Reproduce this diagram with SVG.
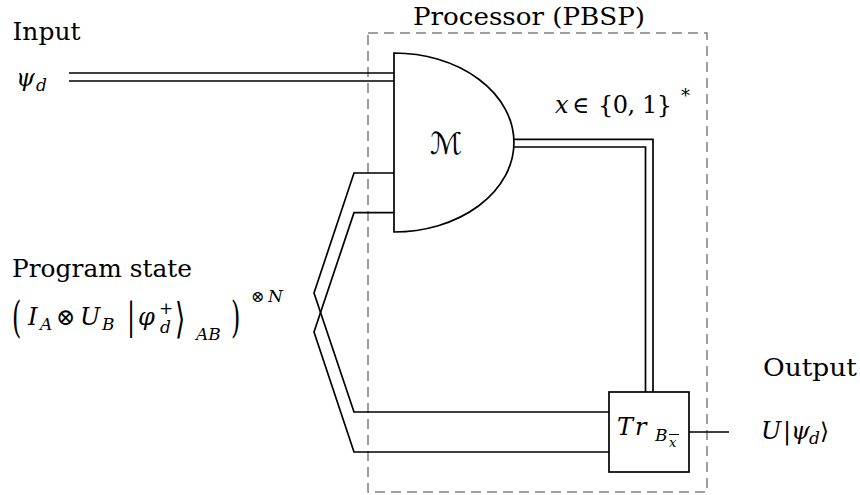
<svg xmlns="http://www.w3.org/2000/svg" width="860" height="495" viewBox="0 0 860 495">
<style>
text{font-family:'DejaVu Serif',serif;fill:#000}
.t{font-size:24px}
.i{font-style:italic;font-size:24px}
.s{font-style:italic;font-size:17px}
.ss{font-style:italic;font-size:13px}
.sym{font-size:23px}
.w{fill:none;stroke:#000;stroke-width:1.7}
.dash{fill:none;stroke:#808080;stroke-width:1.5;stroke-dasharray:10 6}
</style>
<rect width="860" height="495" fill="#fff"/>
<g id="processor">
<rect class="dash" x="368" y="33" width="339" height="459"/>
<text class="t" x="413" y="25" textLength="232" lengthAdjust="spacingAndGlyphs">Processor (PBSP)</text>
</g>
<g id="connectors">
<path class="w" d="M69,73 H394 M69,81 H394"/>
<path class="w" d="M513,139.3 H653 V392 M513.5,147 H645.5 V392"/>
<path class="w" d="M394,173 H354 L314,293 L354,412 H609"/>
<path class="w" d="M394,212.7 H354 L314,332 L354,452 H609"/>
<path class="w" d="M689,432 H729"/>
</g>
<g id="measurement">
<path class="w" d="M394,53 A120,89.5 0 0 1 394,232 Z" fill="#fff"/>
<text x="430" y="154" style="font-family:'DejaVu Sans',sans-serif;font-size:30px">ℳ</text>
</g>
<g id="trace">
<rect class="w" x="609" y="392" width="80" height="80" fill="#fff"/>
<text class="i" x="617" y="435">T</text>
<text class="i" x="635" y="435">r</text>
<text class="s" x="655" y="441">B</text>
<text class="ss" x="669" y="447">x</text>
<path d="M669,434.5 H679" stroke="#000" stroke-width="1"/>
</g>
<g id="input">
<text class="t" x="12.5" y="39.5" textLength="68" lengthAdjust="spacingAndGlyphs">Input</text>
<text class="i" x="16" y="86">ψ</text>
<text class="s" x="36" y="91">d</text>
</g>
<g id="x-label">
<text class="i" x="555" y="113">x</text>
<text class="sym" x="572" y="113">∈</text>
<text class="t" x="598" y="113" textLength="74" lengthAdjust="spacing">{0, 1}</text>
<text class="t" x="681" y="102" style="font-size:18px">*</text>
</g>
<g id="program">
<text class="t" x="12" y="277" textLength="180" lengthAdjust="spacingAndGlyphs">Program state</text>
<text class="t" transform="translate(12,332) scale(1,1.8)">(</text>
<text class="i" x="28" y="325">I</text>
<text class="s" x="40" y="330">A</text>
<text class="sym" x="56" y="325">⊗</text>
<text class="i" x="80" y="325">U</text>
<text class="s" x="102" y="330">B</text>
<text class="t" transform="translate(127,329) scale(1,1.58)">|</text>
<text class="i" x="138" y="325">φ</text>
<text class="s" x="159" y="314" style="font-style:normal">+</text>
<text class="s" x="160" y="333">d</text>
<text class="t" transform="translate(175,333) scale(1.1,1.75)">⟩</text>
<text class="s" x="196" y="340">AB</text>
<text class="t" transform="translate(231,332) scale(1,1.8)">)</text>
<text class="sym" x="251" y="302" style="font-size:16px">⊗</text>
<text class="s" x="268" y="302">N</text>
</g>
<g id="output">
<text class="t" x="763" y="376" textLength="94" lengthAdjust="spacingAndGlyphs">Output</text>
<text class="i" x="761" y="439">U</text>
<text class="t" x="783" y="439">|</text>
<text class="i" x="791" y="439">ψ</text>
<text class="s" x="809" y="444">d</text>
<text class="sym" x="820" y="439">⟩</text>
</g>
</svg>
